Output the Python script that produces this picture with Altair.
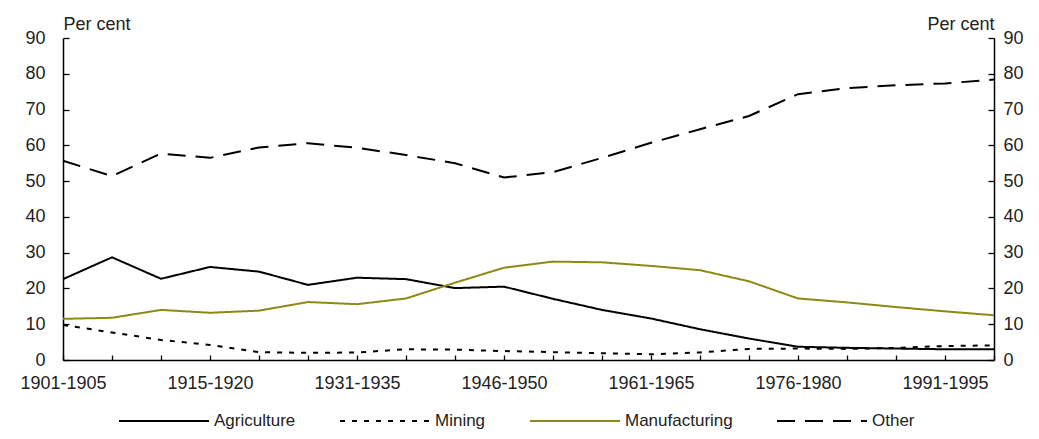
import altair as alt
import pandas as pd

periods = ["1901-1905", "1906-1910", "1911-1914", "1915-1920", "1921-1925",
           "1926-1930", "1931-1935", "1936-1940", "1941-1945", "1946-1950",
           "1951-1955", "1956-1960", "1961-1965", "1966-1970", "1971-1975",
           "1976-1980", "1981-1985", "1986-1990", "1991-1995", "1996-2000"]
label_periods = ["1901-1905", "1915-1920", "1931-1935", "1946-1950",
                 "1961-1965", "1976-1980", "1991-1995"]

agriculture = [22.6, 28.7, 22.7, 26.0, 24.7, 21.0, 23.0, 22.6, 20.1, 20.5,
               17.1, 14.0, 11.6, 8.6, 6.0, 3.7, 3.4, 3.2, 3.0, 3.0]
mining = [9.8, 7.7, 5.6, 4.2, 2.2, 2.0, 2.1, 3.0, 2.9, 2.5,
          2.2, 1.9, 1.6, 2.1, 3.1, 3.2, 3.1, 3.4, 3.9, 4.1]
manufacturing = [11.5, 11.8, 14.0, 13.2, 13.8, 16.2, 15.6, 17.2, 21.6, 25.8,
                 27.5, 27.3, 26.3, 25.1, 22.0, 17.2, 16.1, 14.8, 13.6, 12.5]
other = [55.7, 51.4, 57.7, 56.5, 59.4, 60.6, 59.3, 57.3, 55.0, 51.0,
         52.5, 56.5, 60.7, 64.5, 68.2, 74.3, 76.0, 76.8, 77.3, 78.4]

series_names = ["Agriculture", "Mining", "Manufacturing", "Other"]
series_values = [agriculture, mining, manufacturing, other]
series_colors = ["#000000", "#000000", "#8a8a14", "#000000"]
series_dashes = [[1, 0], [5, 7], [1, 0], [18, 10]]
y_ticks = [0, 10, 20, 30, 40, 50, 60, 70, 80, 90]

rows = []
for name, vals in zip(series_names, series_values):
    for p, v in zip(periods, vals):
        rows.append({"period": p, "value": v, "series": name})
df = pd.DataFrame(rows)

FONT = "Liberation Sans"
FS = 18
W, H = 931, 322
TICK_COLOR = "#000000"

xscale = alt.Scale(type="point", padding=0)
yscale = alt.Scale(domain=[0, 90], nice=False, zero=True)

legend_kw = dict(title=None, orient="none", direction="horizontal",
                 legendX=55, legendY=337, padding=0,
                 symbolType="stroke", symbolSize=8100,
                 symbolStrokeWidth=2, labelFont=FONT,
                 labelFontSize=17, labelColor="#222222",
                 labelOffset=4, columnPadding=40)

lines = alt.Chart(df).mark_line(strokeWidth=2).encode(
    x=alt.X("period:O", sort=periods, scale=xscale,
            axis=alt.Axis(orient="bottom", values=label_periods, title=None,
                          ticks=False, tickSize=0, labelPadding=14,
                          labelAngle=0, labelFontSize=FS, labelFont=FONT,
                          labelColor="#222222", domainColor="#000000",
                          domainWidth=1.5, grid=False)),
    y=alt.Y("value:Q", scale=yscale,
            axis=alt.Axis(orient="left", values=y_ticks, ticks=False, tickSize=0,
                          labelPadding=18, labelFontSize=FS, labelFont=FONT,
                          labelColor="#222222", domainColor="#000000",
                          domainWidth=1.5, grid=False,
                          title="Per cent", titleAngle=0, titleX=0, titleY=-9,
                          titleAlign="left", titleBaseline="alphabetic",
                          titleFont=FONT, titleFontSize=FS,
                          titleFontWeight="normal", titleColor="#222222")),
    color=alt.Color("series:N", sort=series_names,
                    scale=alt.Scale(domain=series_names, range=series_colors),
                    legend=alt.Legend(**legend_kw)),
    strokeDash=alt.StrokeDash("series:N", sort=series_names,
                              scale=alt.Scale(domain=series_names, range=series_dashes),
                              legend=alt.Legend(**legend_kw)),
)

right = alt.Chart(df).mark_point(opacity=0).encode(
    x=alt.X("period:O", sort=periods, scale=xscale,
            axis=alt.Axis(orient="top", offset=-H, labels=False, domain=False,
                          ticks=True, tickSize=5, tickColor=TICK_COLOR,
                          tickWidth=1.3, title=None, grid=False)),
    y=alt.Y("value:Q", scale=yscale,
            axis=alt.Axis(orient="right", values=y_ticks, ticks=False, tickSize=0,
                          labelPadding=9, labelFontSize=FS, labelFont=FONT,
                          labelColor="#222222", domainColor="#000000",
                          domainWidth=1.5, grid=False,
                          title="Per cent", titleAngle=0, titleX=0, titleY=-9,
                          titleAlign="right", titleBaseline="alphabetic",
                          titleFont=FONT, titleFontSize=FS,
                          titleFontWeight="normal", titleColor="#222222")),
)

ticks_left = alt.Chart(df).mark_point(opacity=0).encode(
    x=alt.X("period:O", sort=periods, scale=xscale, axis=None),
    y=alt.Y("value:Q", scale=yscale,
            axis=alt.Axis(orient="right", offset=-W, values=y_ticks, labels=False,
                          domain=False, ticks=True, tickSize=6,
                          tickColor=TICK_COLOR, tickWidth=1.3, title=None, grid=False)),
)

ticks_right = alt.Chart(df).mark_point(opacity=0).encode(
    x=alt.X("period:O", sort=periods, scale=xscale, axis=None),
    y=alt.Y("value:Q", scale=yscale,
            axis=alt.Axis(orient="left", offset=-W, values=y_ticks, labels=False,
                          domain=False, ticks=True, tickSize=6,
                          tickColor=TICK_COLOR, tickWidth=1.3, title=None, grid=False)),
)

chart = alt.layer(lines, right, ticks_left, ticks_right).resolve_axis(
    x="independent", y="independent"
).properties(
    width=W, height=H,
    autosize=alt.AutoSizeParams(type="none"),
    padding={"left": 55, "top": 30, "right": 29, "bottom": 71},
    background="white",
).configure_view(stroke=None)

chart.save("out.html", embed_options={"renderer": "svg", "actions": False})
